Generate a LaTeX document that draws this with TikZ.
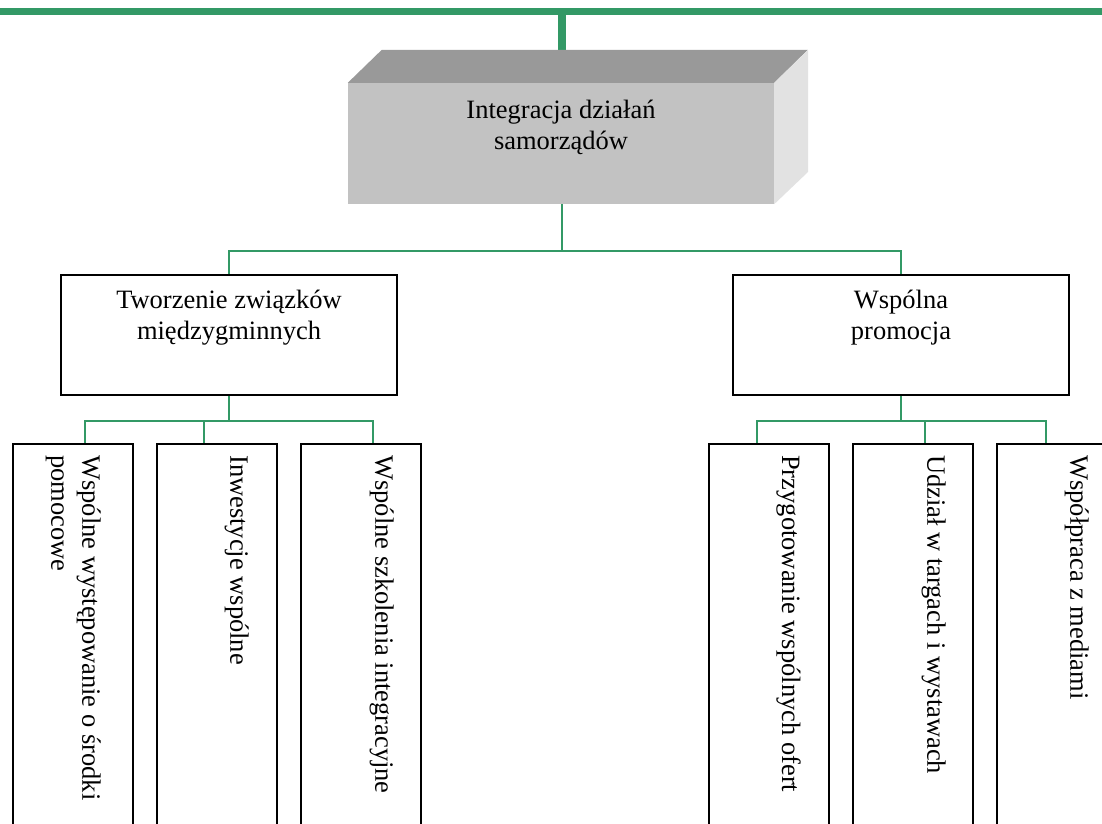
\documentclass[tikz,border=0pt]{standalone}
\usepackage{fontspec}
\setmainfont{Liberation Serif}
\usetikzlibrary{positioning}
\usetikzlibrary{calc}
\definecolor{linkgreen}{RGB}{51,153,102}
\definecolor{topgrey}{RGB}{153,153,153}
\definecolor{frontgrey}{RGB}{194,194,194}
\definecolor{sidegrey}{RGB}{226,226,226}
\tikzstyle{mainbox} = [rectangle, 
minimum width=426pt, 
minimum height=121pt,
inner sep=0pt,
fill=frontgrey]
\tikzstyle{midbox} = [rectangle, 
minimum width=336pt, 
minimum height=120pt,
draw=black, 
line width=2pt,
fill=white]
\tikzstyle{leafbox} = [rectangle, 
minimum width=120pt, 
minimum height=460pt,
anchor=north,
draw=black, 
line width=2pt]
\tikzstyle{boxtext} = [align=center, inner sep=0pt, anchor=north,
font=\fontsize{26.5}{31}\selectfont]
\tikzstyle{leaftext} = [rotate=-90, align=left, inner sep=0pt, anchor=north west,
font=\fontsize{26.5}{31}\selectfont]
\tikzstyle{link} = [draw=linkgreen, line width=1.5pt]
\tikzstyle{trunk} = [draw=linkgreen, line width=8pt]

\begin{document}
\begin{tikzpicture}[x=1pt, y=-1pt]
\useasboundingbox (0,0) rectangle (1102,823);
\clip (0,0) rectangle (1102,823);

\draw[linkgreen, line width=7pt] (0,11.5) -- (1102,11.5);
\coordinate (bar) at (562,11.5);

% main box with its top and side faces
\node [mainbox] (integ) at (561,143.5) {};
\path [trunk] (bar) -- (bar |- integ.north);
\fill [topgrey] (integ.north west) -- ++(34,-33) -- ++(426,0) -- (integ.north east) -- cycle;
\fill [sidegrey] (integ.north east) -- ++(34,-33) -- ++(0,122) -- (integ.south east) -- cycle;
\node [boxtext] (integtext) at ([yshift=-17pt]integ.north) {Integracja działań\\samorządów};

\node [midbox] (twz) at (229,335) {};
\node [midbox] (prom) at (901,335) {};
\node [boxtext] (twztext) at ([yshift=-16pt]twz.north) {Tworzenie związków\\międzygminnych};
\node [boxtext] (promtext) at ([yshift=-16pt]prom.north) {Wspólna\\promocja};

\node [leafbox] (wyst) at (73,443) {};
\node [leafbox, right=22pt of wyst] (inwest) {};
\node [leafbox, right=22pt of inwest] (szkol) {};
\node [leafbox] (oferty) at (769,443) {};
\node [leafbox, right=22pt of oferty] (targi) {};
\node [leafbox, right=22pt of targi] (media) {};

\node [leaftext] at ($(wyst.north east)+(-33,12)$) {Wspólne występowanie o środki\\pomocowe};
\node [leaftext] at ($(inwest.north east)+(-29,12)$) {Inwestycje wspólne};
\node [leaftext] at ($(szkol.north east)+(-28,12)$) {Wspólne szkolenia integracyjne};
\node [leaftext] at ($(oferty.north east)+(-29,12)$) {Przygotowanie wspólnych ofert};
\node [leaftext] at ($(targi.north east)+(-28,12)$) {Udział w targach i wystawach};
\node [leaftext] at ($(media.north east)+(-29,12)$) {Współpraca z mediami};

\coordinate (split) at ($(integ.south)+(1,47)$);
\path [link] (integ.south -| split) -- (split) -| (twz.north);
\path [link] (split) -| (prom.north);

\path [link] (twz.south) -- ++(0,25) coordinate (twzsplit);
\path [link] (twzsplit) -| ($(wyst.north)+(12,0)$);
\path [link] (twzsplit) -| ($(inwest.north)+(-13,0)$);
\path [link] (twzsplit) -| ($(szkol.north)+(12,0)$);

\path [link] (prom.south) -- ++(0,25) coordinate (promsplit);
\path [link] (promsplit) -| ($(oferty.north)+(-12,0)$);
\path [link] (promsplit) -| ($(targi.north)+(12,0)$);
\path [link] (promsplit) -| ($(media.north)+(-11,0)$);

\end{tikzpicture}
\end{document}
